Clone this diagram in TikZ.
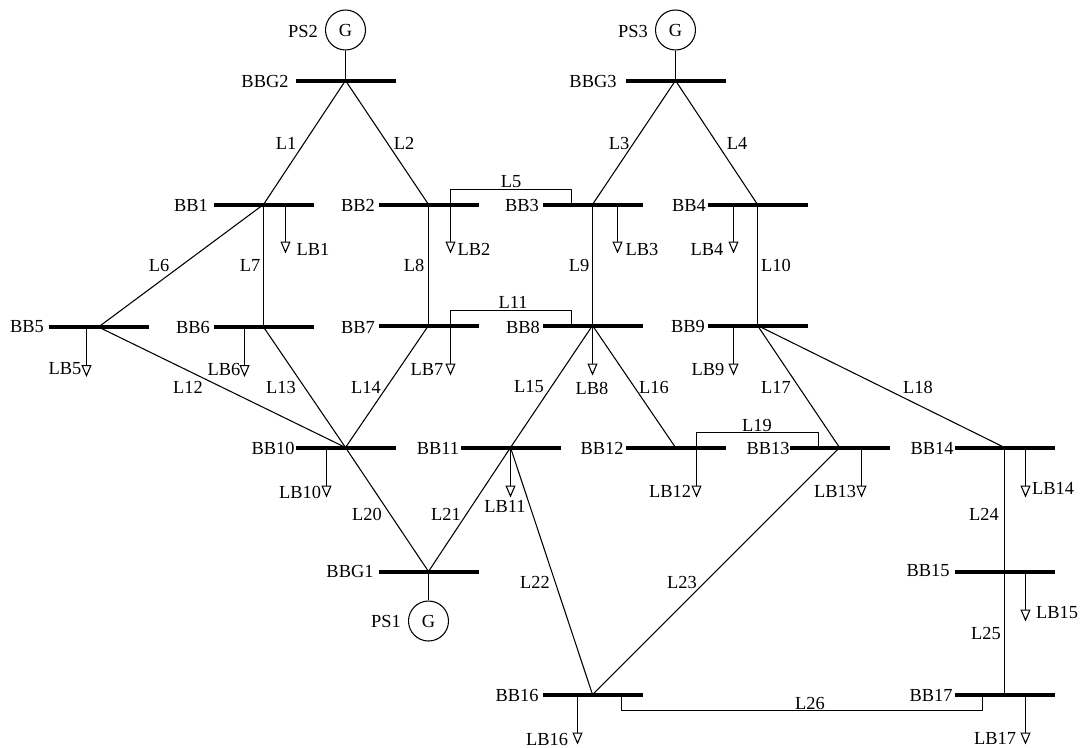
\documentclass[tikz,border=0pt]{standalone}
\usepackage{fontspec}
\setmainfont{Liberation Serif}
\usetikzlibrary{arrows.meta}
\tikzset{
busbar/.style={fill=black,rectangle,inner sep=0pt,minimum width=75pt,minimum height=3pt},
gen/.style={draw,circle,line width=.8pt,inner sep=0pt,minimum size=30pt},
lbl/.style={inner sep=0pt},
line/.style={line width=.8pt},
load/.style={line width=.8pt,-{Triangle[open,length=9pt,width=7.5pt]}}
}
\begin{document}
\begin{tikzpicture}[x=.75pt,y=-.75pt,line join=round,font=\fontsize{13.8}{16}\selectfont]
\useasboundingbox (0,0) rectangle (1080,747);

\foreach \n/\x/\y in {BBG1/428.5/571.5,BBG2/345.5/80.5,BBG3/675.5/80.5,
BB1/263.5/204.5,BB2/428.5/204.5,BB3/592.5/204.5,BB4/757.5/204.5,
BB5/98.5/327,BB6/263.5/327,BB7/428.5/325.5,BB8/592.5/325.5,BB9/757.5/325.5,
BB10/345.5/447.5,BB11/510.5/447.5,BB12/675.5/447.5,BB13/839.5/447.5,BB14/1004.5/447.5,
BB15/1004.5/571.5,BB16/592.5/694.5,BB17/1004.5/694.5}
\node[busbar] (\n) at (\x,\y) {};

\node[gen] (G1) at (428.5,621) {G};
\node[gen] (G2) at (345.5,30) {G};
\node[gen] (G3) at (675.5,30) {G};

\foreach \a/\b in {G1/BBG1,G2/BBG2,G3/BBG3}
\draw[line] (\a) -- (\b.center);

\foreach \a/\b in {BBG2/BB1,BBG2/BB2,BBG3/BB3,BBG3/BB4,BB1/BB5,BB1/BB6,BB2/BB7,BB3/BB8,BB4/BB9,
BB5/BB10,BB6/BB10,BB7/BB10,BB8/BB11,BB8/BB12,BB9/BB13,BB9/BB14,BB10/BBG1,BB11/BBG1,
BB11/BB16,BB13/BB16,BB14/BB15,BB15/BB17}
\draw[line] (\a.center) -- (\b.center);

\draw[line] ([shift={(22,0)}]BB2.center) -- ++(0,-15) -| ([shift={(-21,0)}]BB3.center);
\draw[line] ([shift={(22,0)}]BB7.center) -- ++(0,-15) -| ([shift={(-21,0)}]BB8.center);
\draw[line] ([shift={(21,0)}]BB12.center) -- ++(0,-15) -| ([shift={(-21,0)}]BB13.center);
\draw[line] ([shift={(29,0)}]BB16.center) -- ++(0,16) -| ([shift={(-22,0)}]BB17.center);

\foreach \n/\dx/\len in {BB1/22/49,BB2/22/49,BB3/25/49,BB4/-24/49,BB5/-12/50,BB6/-19/50,BB7/22/50,BB8/0/50,
BB9/-24/50,BB10/-19/50,BB11/0/50,BB12/21/50,BB13/22/50,BB14/21/50,BB15/21/50,BB16/-15/50,BB17/21/50}
\draw[load] ([shift={(\dx,0)}]\n.center) -- ++(0,\len) coordinate (end\n);

\foreach \t/\x/\y in {PS1/386/621,PS2/303/31,PS3/633/31,BBG1/350/571,BBG2/265/81,BBG3/593/81,
BB1/191/205,BB2/358/205,BB3/522/205,BB4/689/205,BB5/27/327,BB6/193/327,BB7/358/327,BB8/523/327,BB9/688/326,
BB10/273/448,BB11/438/448,BB12/602/448,BB13/768/448,BB14/932/448,BB15/928/571,BB16/517/695,BB17/931/695}
\node[lbl] (t\t) at (\x,\y) {\t};

\foreach \t/\x/\y in {L1/286/143,L2/404/143,L3/619/143,L4/737/143,L5/511/182,L6/159/265,L7/250/265,L8/414/265,
L9/579/265,L10/776/265,L11/513/302,L12/188/387,L13/281/387,L14/366/387,L15/529/387,L16/654/387,L17/776/387,
L18/918/387,L19/757/425,L20/367/514,L21/446/514,L22/535/582,L23/682/582,L24/984/514,L25/986/633,L26/810/703}
\node[lbl] (t\t) at (\x,\y) {\t};

\foreach \t/\x/\y in {LB1/313/249,LB2/474/249,LB3/642/249,LB4/707/249,LB5/65/369,LB6/224/369,LB7/427/369,LB8/592/388,
LB9/708/369,LB10/300/492,LB11/505/506,LB12/670/491,LB13/835/491,LB14/1053/488,LB15/1057/613,LB16/547/739,LB17/995/738}
\node[lbl] (t\t) at (\x,\y) {\t};

\end{tikzpicture}
\end{document}
